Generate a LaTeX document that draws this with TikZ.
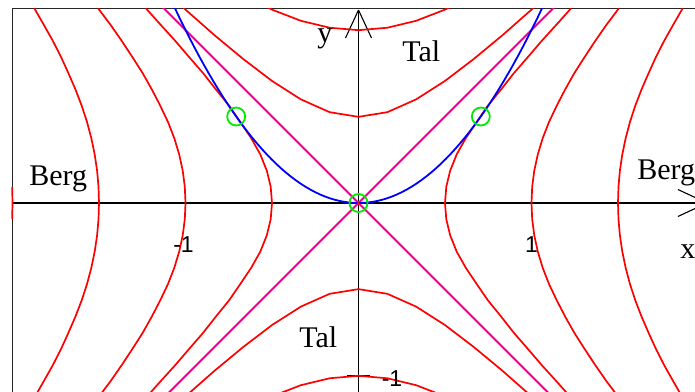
\documentclass[tikz,border=0pt]{standalone}
\usepackage{fontspec}
\setmainfont{Liberation Serif}
\newfontfamily\tickfont{Liberation Sans}
\begin{document}
\begin{tikzpicture}[x=86.5pt,y=86.5pt,
  declare function={
    bxz(\lv,\pv)=floor(6*sqrt(\lv+\pv*\pv))/6;
    bx(\lv,\pv)=bxz(\lv,\pv)+(\lv+\pv*\pv-bxz(\lv,\pv)*bxz(\lv,\pv))/(2*bxz(\lv,\pv)+1/6);
    tyz(\lv,\pv)=floor(sqrt(\pv*\pv-\lv)/0.09375)*0.09375;
    ty(\lv,\pv)=tyz(\lv,\pv)+(\pv*\pv-\lv-tyz(\lv,\pv)*tyz(\lv,\pv))/(2*tyz(\lv,\pv)+0.09375);
  },
  contour/.style={red, line width=0.85pt, line join=round},
  zeroline/.style={magenta, line width=0.9pt},
  constraint/.style={blue, line width=0.9pt},
  axisline/.style={black, line width=0.55pt},
  framelineb/.style={black!85, line width=0.8pt},
  crit/.style={circle, draw={rgb,255:red,0;green,235;blue,0}, line width=0.9pt, minimum size=9pt, inner sep=0pt},
  ticklab/.style={font=\tickfont\fontsize{11.5pt}{13pt}\selectfont, inner sep=0pt},
  wordlab/.style={font=\fontsize{15pt}{18pt}\selectfont, inner sep=0pt, anchor=base west},
]
\useasboundingbox (-2.0723,-1.0925) rectangle (1.9451,1.1734);
\clip (-2.0723,-1.0925) rectangle (1.9451,1.1734);
\fill[white] (-2.0723,-1.0925) rectangle (1.9451,1.1734);

% frame
\draw[framelineb] (-2,-1.2) -- (-2,1.125) -- (2.2,1.125);

% axes
\coordinate (xs) at (-2,0);
\coordinate (xt) at (2.014,0);
\coordinate (ys) at (0,-1.2);
\coordinate (yt) at (0,1.1156);
\draw[axisline] (xs) -- (xt);
\draw[axisline] (ys) -- (yt);
\draw[axisline] (xt) -- ++(-14.5pt,6.75pt);
\draw[axisline] (xt) -- ++(-14.5pt,-6.75pt);
\draw[axisline] (yt) -- ++(-6.5pt,-14pt);
\draw[axisline] (yt) -- ++(6.5pt,-14pt);
% ticks
\draw[axisline] (-1,0) ++(0,5.5pt) -- ++(0,-11.5pt);
\draw[axisline] (1,0) ++(0,5.5pt) -- ++(0,-11.5pt);
\draw[axisline] (0,-1) ++(-5.75pt,0) -- ++(11.5pt,0);

\begin{scope}
\clip (-2.02,-1.3) rectangle (2.2,1.125);
% Berg contours (left and right)
\foreach \lev in {0.25,1,2.25}{
  \draw[contour] plot[variable=\j, samples at={-13,-12,...,12}] ({-bx(\lev,\j*0.09375)},{\j*0.09375});
  \draw[contour] plot[variable=\j, samples at={-13,-12,...,12}] ({bx(\lev,\j*0.09375)},{\j*0.09375});
}
\draw[contour] plot[variable=\j, samples at={-1,0,1}] ({-bx(4,\j*0.09375)},{\j*0.09375});
% Tal contours (top and bottom)
\foreach \lev in {-0.25,-1}{
  \draw[contour] plot[variable=\k, samples at={-8,-7,...,8}] ({\k/6},{ty(\lev,\k/6)});
  \draw[contour] plot[variable=\k, samples at={-8,-7,...,8}] ({\k/6},{-ty(\lev,\k/6)});
}
% zero level lines
\draw[zeroline] (-1.3,-1.3) -- (1.3,1.3);
\draw[zeroline] (-1.3,1.3) -- (1.3,-1.3);
% constraint parabola
\draw[constraint] plot[domain=-1.12:1.12, samples=81] (\x,{\x*\x});
\end{scope}

\fill[red] (0,0) circle (0.8pt);
\node[crit] (c0) at (0,0) {};
\node[crit] (c1) at (-0.7071,0.5) {};
\node[crit] (c2) at (0.7071,0.5) {};

% labels
\node[ticklab] (lxm) at (-1.0116,-0.2428) {-1};
\node[ticklab] (lxp) at (1.0,-0.2428) {1};
\node[ticklab] (lym) at (0.194,-1.017) {-1};
\node[wordlab] (bergl) at (-1.9046,0.1040) {Berg};
\node[wordlab] (bergr) at (1.6098,0.1387) {Berg};
\node[wordlab] (talt) at (0.2514,0.8208) {Tal};
\node[wordlab] (talb) at (-0.3439,-0.8324) {Tal};
\node[wordlab] (ylab) at (-0.2399,0.9306) {y};
\node[wordlab] (xlab) at (1.858,-0.3237) {x};
\end{tikzpicture}
\end{document}
